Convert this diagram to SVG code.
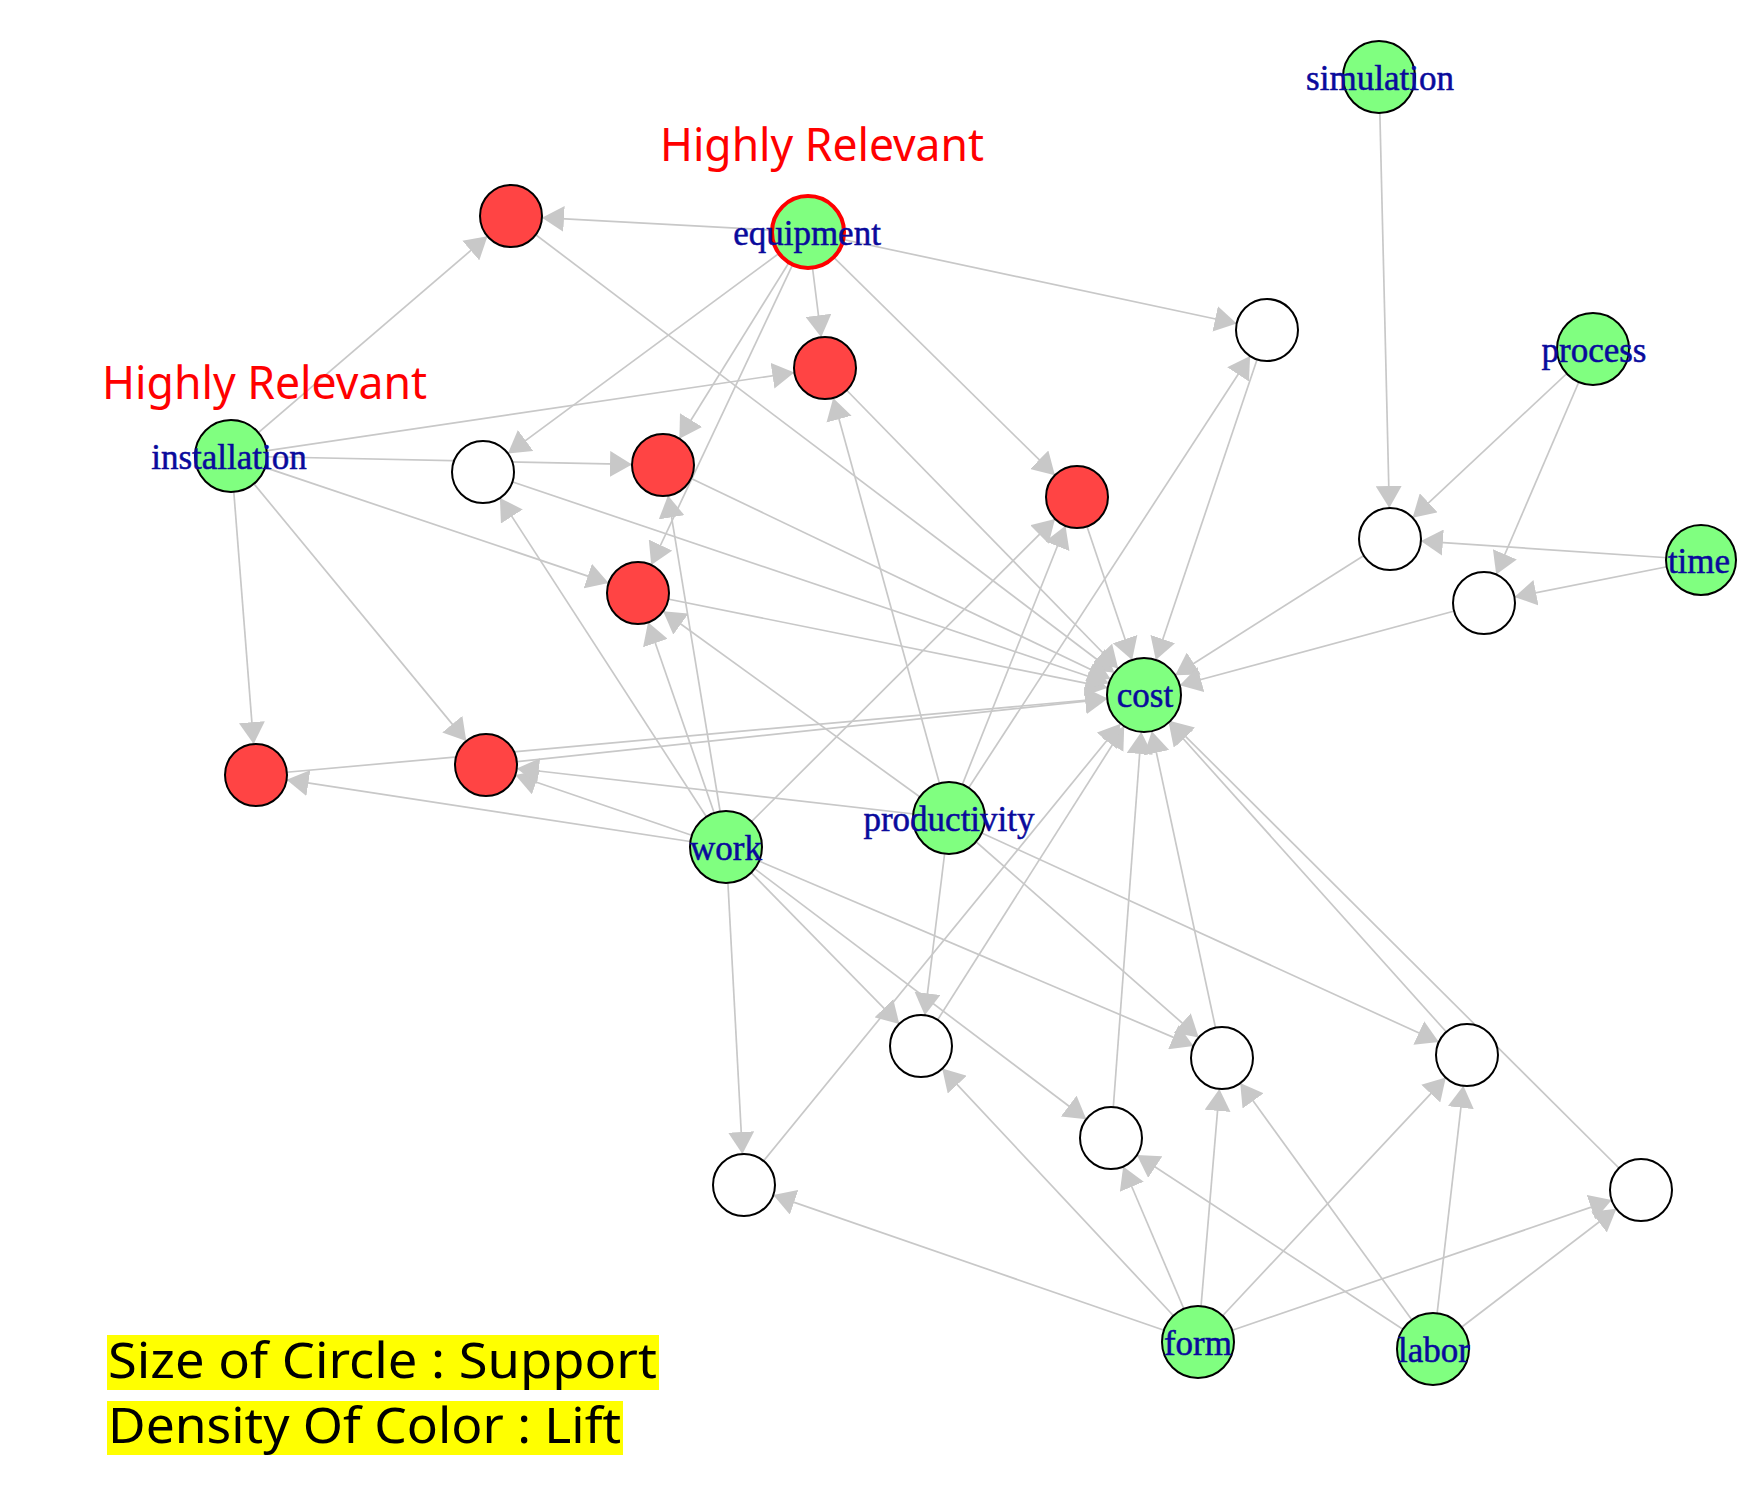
<svg xmlns="http://www.w3.org/2000/svg" width="1741" height="1488" viewBox="0 0 1741 1488">
<style>
.e{stroke:#c8c8c8;stroke-width:1.7;fill:none;marker-end:url(#ah)}
.item{fill:#80ff80;stroke:#000;stroke-width:2}
.red{fill:#ff4444;stroke:#000;stroke-width:2}
.white{fill:#fff;stroke:#000;stroke-width:2}
.lbl{font-family:"Liberation Serif","Times New Roman",serif;font-size:35px;fill:#0a0a9c;stroke:#0a0a9c;stroke-width:0.5;text-anchor:middle}
.hr{font-family:"Noto Sans","Liberation Sans",sans-serif;font-size:45px;fill:#ff0000}
.leg{font-family:"Noto Sans","Liberation Sans",sans-serif;font-size:50px;fill:#000}
</style>
<defs>
<marker id="ah" viewBox="0 0 22 26" refX="22" refY="13" markerWidth="22" markerHeight="26" markerUnits="userSpaceOnUse" orient="auto"><path d="M0,0 L22,13 L0,26 z" fill="#c8c8c8"/></marker>
</defs>
<rect width="1741" height="1488" fill="#fff"/>
<g id="connectors">
<line class="e" x1="511" y1="216" x2="1114.5" y2="672.7"/>
<line class="e" x1="825" y1="368" x2="1118.2" y2="668.5"/>
<line class="e" x1="663" y1="465" x2="1110.6" y2="679"/>
<line class="e" x1="638" y1="593" x2="1107.7" y2="687.7"/>
<line class="e" x1="1077" y1="497" x2="1132.1" y2="659.9"/>
<line class="e" x1="486" y1="765" x2="1107.2" y2="698.9"/>
<line class="e" x1="256" y1="775" x2="1107.1" y2="698.3"/>
<line class="e" x1="483" y1="472" x2="1108.9" y2="683.2"/>
<line class="e" x1="1267" y1="330" x2="1155.8" y2="659.9"/>
<line class="e" x1="1390" y1="539" x2="1175.2" y2="675.2"/>
<line class="e" x1="1484" y1="603" x2="1179.7" y2="685.3"/>
<line class="e" x1="921" y1="1046" x2="1124.2" y2="726.2"/>
<line class="e" x1="1222" y1="1058" x2="1151.8" y2="731.2"/>
<line class="e" x1="1467" y1="1055" x2="1168.7" y2="722.5"/>
<line class="e" x1="1111" y1="1138" x2="1141.3" y2="731.9"/>
<line class="e" x1="1641" y1="1190" x2="1170.2" y2="721.1"/>
<line class="e" x1="744" y1="1185" x2="1120.6" y2="723.7"/>
<line class="e" x1="808" y1="232" x2="542" y2="217.7"/>
<line class="e" x1="808" y1="232" x2="1236.7" y2="323.5"/>
<line class="e" x1="808" y1="232" x2="821.2" y2="337.2"/>
<line class="e" x1="808" y1="232" x2="507.9" y2="453.6"/>
<line class="e" x1="808" y1="232" x2="679.4" y2="438.7"/>
<line class="e" x1="808" y1="232" x2="651.2" y2="565"/>
<line class="e" x1="808" y1="232" x2="1054.9" y2="475.2"/>
<line class="e" x1="231" y1="456" x2="487.5" y2="236.2"/>
<line class="e" x1="231" y1="456" x2="794.3" y2="372.5"/>
<line class="e" x1="231" y1="456" x2="632" y2="464.4"/>
<line class="e" x1="231" y1="456" x2="608.6" y2="583.1"/>
<line class="e" x1="231" y1="456" x2="466.3" y2="741.1"/>
<line class="e" x1="231" y1="456" x2="253.6" y2="744.1"/>
<line class="e" x1="726" y1="847" x2="499.9" y2="498"/>
<line class="e" x1="726" y1="847" x2="668" y2="495.6"/>
<line class="e" x1="726" y1="847" x2="648.1" y2="622.3"/>
<line class="e" x1="726" y1="847" x2="1055" y2="518.9"/>
<line class="e" x1="726" y1="847" x2="515.3" y2="775"/>
<line class="e" x1="726" y1="847" x2="286.6" y2="779.7"/>
<line class="e" x1="726" y1="847" x2="742.4" y2="1154"/>
<line class="e" x1="726" y1="847" x2="899.3" y2="1023.9"/>
<line class="e" x1="726" y1="847" x2="1086.3" y2="1119.3"/>
<line class="e" x1="726" y1="847" x2="1193.5" y2="1045.9"/>
<line class="e" x1="949" y1="818" x2="833.2" y2="397.9"/>
<line class="e" x1="949" y1="818" x2="663.1" y2="611.2"/>
<line class="e" x1="949" y1="818" x2="1065.5" y2="525.8"/>
<line class="e" x1="949" y1="818" x2="516.8" y2="768.5"/>
<line class="e" x1="949" y1="818" x2="1250.1" y2="356"/>
<line class="e" x1="949" y1="818" x2="924.8" y2="1015.2"/>
<line class="e" x1="949" y1="818" x2="1198.7" y2="1037.5"/>
<line class="e" x1="949" y1="818" x2="1438.8" y2="1042.1"/>
<line class="e" x1="1379" y1="77" x2="1389.3" y2="508"/>
<line class="e" x1="1593" y1="349" x2="1412.6" y2="517.8"/>
<line class="e" x1="1593" y1="349" x2="1496.2" y2="574.5"/>
<line class="e" x1="1701" y1="560" x2="1420.9" y2="541.1"/>
<line class="e" x1="1701" y1="560" x2="1514.4" y2="597"/>
<line class="e" x1="1198" y1="1342" x2="942.2" y2="1068.6"/>
<line class="e" x1="1198" y1="1342" x2="1123.2" y2="1166.5"/>
<line class="e" x1="1198" y1="1342" x2="1219.4" y2="1088.9"/>
<line class="e" x1="1198" y1="1342" x2="1445.8" y2="1077.6"/>
<line class="e" x1="1198" y1="1342" x2="1611.7" y2="1200.1"/>
<line class="e" x1="1198" y1="1342" x2="773.3" y2="1195.1"/>
<line class="e" x1="1433" y1="1349" x2="1136.9" y2="1155"/>
<line class="e" x1="1433" y1="1349" x2="1240.2" y2="1083.1"/>
<line class="e" x1="1433" y1="1349" x2="1463.4" y2="1085.8"/>
<line class="e" x1="1433" y1="1349" x2="1616.4" y2="1208.8"/>
</g>
<g id="rule-1"><circle class="red" cx="511" cy="216" r="31"/></g>
<g id="rule-2"><circle class="red" cx="825" cy="368" r="31"/></g>
<g id="rule-3"><circle class="red" cx="663" cy="465" r="31"/></g>
<g id="rule-4"><circle class="red" cx="638" cy="593" r="31"/></g>
<g id="rule-5"><circle class="red" cx="1077" cy="497" r="31"/></g>
<g id="rule-6"><circle class="red" cx="486" cy="765" r="31"/></g>
<g id="rule-7"><circle class="red" cx="256" cy="775" r="31"/></g>
<g id="rule-8"><circle class="white" cx="483" cy="472" r="31"/></g>
<g id="rule-9"><circle class="white" cx="1267" cy="330" r="31"/></g>
<g id="rule-10"><circle class="white" cx="1390" cy="539" r="31"/></g>
<g id="rule-11"><circle class="white" cx="1484" cy="603" r="31"/></g>
<g id="rule-12"><circle class="white" cx="921" cy="1046" r="31"/></g>
<g id="rule-13"><circle class="white" cx="1222" cy="1058" r="31"/></g>
<g id="rule-14"><circle class="white" cx="1467" cy="1055" r="31"/></g>
<g id="rule-15"><circle class="white" cx="1111" cy="1138" r="31"/></g>
<g id="rule-16"><circle class="white" cx="1641" cy="1190" r="31"/></g>
<g id="rule-17"><circle class="white" cx="744" cy="1185" r="31"/></g>
<g id="node-equipment"><circle class="item" cx="808" cy="232" r="36" style="stroke:#ff0000;stroke-width:4"/><text class="lbl" x="807" y="245">equipment</text></g>
<g id="node-installation"><circle class="item" cx="231" cy="456" r="36"/><text class="lbl" x="229" y="469">installation</text></g>
<g id="node-simulation"><circle class="item" cx="1379" cy="77" r="36"/><text class="lbl" x="1380" y="90">simulation</text></g>
<g id="node-process"><circle class="item" cx="1593" cy="349" r="36"/><text class="lbl" x="1594" y="362">process</text></g>
<g id="node-time"><circle class="item" cx="1701" cy="560" r="35"/><text class="lbl" x="1699" y="573">time</text></g>
<g id="node-cost"><circle class="item" cx="1144" cy="695" r="37"/><text class="lbl" x="1145" y="707">cost</text></g>
<g id="node-productivity"><circle class="item" cx="949" cy="818" r="36"/><text class="lbl" x="949" y="831">productivity</text></g>
<g id="node-work"><circle class="item" cx="726" cy="847" r="36"/><text class="lbl" x="726" y="860">work</text></g>
<g id="node-form"><circle class="item" cx="1198" cy="1342" r="36"/><text class="lbl" x="1198" y="1355">form</text></g>
<g id="node-labor"><circle class="item" cx="1433" cy="1349" r="36"/><text class="lbl" x="1434" y="1362">labor</text></g>
<g id="annotations">
<text class="hr" x="660" y="161" textLength="324" lengthAdjust="spacingAndGlyphs">Highly Relevant</text>
<text class="hr" x="102" y="399" textLength="325" lengthAdjust="spacingAndGlyphs">Highly Relevant</text>
<rect x="107" y="1335" width="552" height="55" fill="#ffff00"/>
<rect x="107" y="1401" width="516" height="54" fill="#ffff00"/>
<text class="leg" x="108" y="1378" textLength="549" lengthAdjust="spacingAndGlyphs">Size of Circle : Support</text>
<text class="leg" x="108" y="1443" textLength="513" lengthAdjust="spacingAndGlyphs">Density Of Color : Lift</text>
</g>
</svg>
